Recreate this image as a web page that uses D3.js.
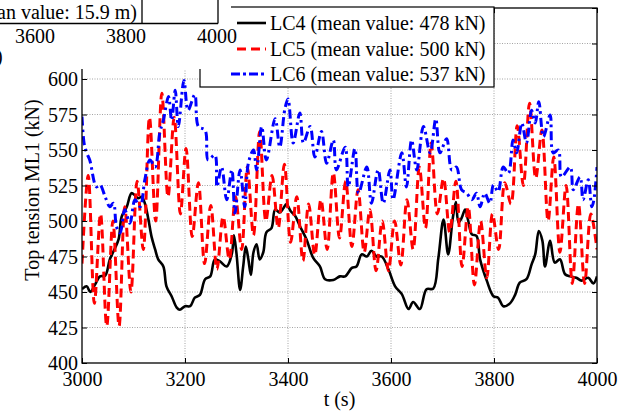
<!DOCTYPE html>
<html>
<head>
<meta charset="utf-8">
<script src="https://cdn.jsdelivr.net/npm/d3@7"></script>
<style>
  html, body { margin: 0; padding: 0; background: #fff; }
  svg { display: block; }
  text { font-family: "Liberation Serif", "Times New Roman", serif; fill: #000; }
</style>
</head>
<body>
<svg id="chart" width="632" height="412"></svg>
<script>
// Time histories of the top tension in mooring line ML1, t = 3000–4000 s
const lc4 = [[3000,452],[3009,454],[3016,450],[3025,455],[3035,461],[3045,461.5],[3054,473],[3061,478.5],[3071,487],[3077,503],[3087,510],[3096,519.6],[3103,518],[3109,516],[3116,517],[3122,512.5],[3129,501],[3135,489],[3142,480],[3148,473],[3158,468],[3164,454],[3174,447],[3184,439],[3190,437.5],[3200,440],[3210,440],[3219,446],[3229,448],[3239,459],[3249,461],[3258,473],[3268,471.5],[3281,468],[3291,477],[3295,490],[3300,477],[3307,451.5],[3313,468],[3318,482],[3323,473],[3328,462],[3333,478],[3339,483.6],[3345,473],[3352,478],[3358,492],[3368,495],[3375,508],[3384,506],[3391,509],[3397,512],[3405,507],[3414,503.5],[3423,496.5],[3436,487],[3449,474],[3462,468],[3472,459],[3488,458.5],[3501,461],[3511,461],[3524,467],[3533,468],[3543,476.5],[3553,475],[3562,479],[3572,475],[3582,475],[3595,466],[3608,454],[3621,448.5],[3634,438],[3643,443],[3656,438],[3669,452],[3682,452.4],[3692,474],[3702,501],[3711,476.5],[3720,502],[3726,513.4],[3731,499],[3737,502],[3744,508],[3750,500],[3757,490.6],[3766,489.5],[3773,473],[3786,458],[3799,447],[3808,446],[3818,440],[3831,442],[3841,448],[3850,456.6],[3863,459],[3873,469.5],[3880,476.5],[3887,493],[3894,486],[3899,468],[3909,486],[3918,470.7],[3928,473],[3938,462.5],[3948,461],[3960,460],[3970,458],[3983,460],[3993,456],[4000,461]];

const lc5 = [[3000,470],[3012,532],[3024,442],[3036,505],[3048,426],[3060,500],[3072,426],[3083,510],[3095,450],[3107,528],[3119,480],[3131,573],[3143,500],[3155,590],[3167,517],[3179,573],[3191,505],[3202,551],[3214,489],[3226,527],[3238,470],[3250,511],[3262,466],[3274,503],[3286,473],[3298,517],[3310,480],[3321,538],[3333,490],[3345,563],[3357,500],[3369,532],[3381,495],[3393,540],[3405,485],[3417,517],[3429,472],[3440,512],[3452,476],[3464,515],[3476,480],[3488,534],[3500,488],[3512,528],[3524,482],[3536,522],[3548,478],[3559,508],[3571,465],[3583,500],[3595,465],[3607,500],[3619,469],[3631,515],[3643,480],[3655,538],[3667,495],[3678,555],[3690,505],[3702,530],[3714,492],[3726,528],[3738,468],[3750,510],[3762,455],[3774,500],[3786,460],[3797,505],[3809,480],[3821,527],[3833,512],[3845,567],[3857,525],[3869,583],[3881,530],[3893,564],[3905,500],[3916,545],[3928,478],[3940,525],[3952,456],[3964,512],[3976,456],[3988,505],[4000,480]];

const lc6 = [[3000,573.5],[3004,555],[3009,548],[3015,543],[3028,524],[3035,525.5],[3045,517],[3054,510],[3061,512.5],[3067,496],[3074,491.5],[3083,508],[3093,498.5],[3103,515],[3113,510],[3122,529],[3132,543],[3142,538],[3151,562],[3158,571],[3168,587.6],[3174,571],[3181,592],[3187,566.5],[3198,599],[3206,578],[3219,589],[3226,566.5],[3239,564],[3245,543],[3258,546.5],[3262,524],[3271,538],[3281,515],[3291,536],[3297,505.5],[3307,536],[3316,510],[3323,540.7],[3333,550],[3339,536],[3349,566.5],[3358,543],[3375,572],[3384,552],[3394,579],[3400,586],[3410,555],[3423,576],[3430,555],[3443,566.5],[3452,545],[3465,563],[3475,540.7],[3488,557],[3494,536],[3511,552],[3517,524],[3530,551],[3537,519.6],[3553,538],[3562,512.5],[3575,536],[3585,512.5],[3598,536],[3604,515],[3621,548],[3630,524],[3640,557],[3650,536],[3663,566.5],[3676,548],[3687,572],[3695,548],[3708,558],[3718,536],[3727,538],[3737,522],[3747,519.6],[3757,515],[3766,519.6],[3773,510],[3782,519.6],[3792,512.5],[3799,525.4],[3808,520.7],[3818,538],[3828,533.6],[3837,557],[3844,548],[3854,569],[3863,555],[3873,578],[3880,569],[3887,584],[3896,559.4],[3909,574.7],[3915,548],[3925,550],[3931,531],[3948,538],[3954,522],[3967,531],[3973,515],[3983,529],[3990,510],[3994,515],[4000,538]];

const seriesNames = ["LC4 (mean value: 478 kN)", "LC5 (mean value: 500 kN)", "LC6 (mean value: 537 kN)"];
const xTicks = [3000, 3200, 3400, 3600, 3800, 4000];
const yTicks = [400, 425, 450, 475, 500, 525, 550, 575, 600, 625, 650];
const yLabelled = [400, 425, 450, 475, 500, 525, 550, 575, 600];

// Neighbouring panel (partly visible above): its legend text and x tick labels
const upperLegendText = "(mean value: 15.9 m)";
const upperTicks = [3600, 3800, 4000];

const svg = d3.select("#chart");
const L = 82, R = 597, T = 8, B = 363;

const x = d3.scaleLinear().domain([3000, 4000]).range([L, R]);
const y = d3.scaleLinear().domain([400, 650]).range([B, T]);

// grid
const grid = svg.append("g").attr("stroke", "#9a9a9a").attr("stroke-width", 0.9).attr("stroke-dasharray", "1,1.5");
grid.selectAll(".gx").data(xTicks.slice(1, -1)).join("line")
  .attr("x1", d => x(d)).attr("x2", d => x(d)).attr("y1", T).attr("y2", B);
grid.selectAll(".gy").data(yTicks.slice(1, -1)).join("line")
  .attr("x1", L).attr("x2", R).attr("y1", d => y(d)).attr("y2", d => y(d));

// series
svg.append("clipPath").attr("id", "plotclip").append("rect")
  .attr("x", L).attr("y", T).attr("width", R - L).attr("height", B - T);
const line = d3.line().x(d => x(d[0])).y(d => y(d[1])).curve(d3.curveCatmullRom.alpha(0.5));
const styles = [
  { data: lc4, color: "#000000", width: 2.6, dash: null },
  { data: lc5, color: "#ff0000", width: 3, dash: "9,5" },
  { data: lc6, color: "#0000ff", width: 3, dash: "9,4,2.5,4" }
];
const plot = svg.append("g").attr("clip-path", "url(#plotclip)");
styles.forEach(s => {
  plot.append("path").datum(s.data)
    .attr("d", line).attr("fill", "none")
    .attr("stroke", s.color).attr("stroke-width", s.width)
    .attr("stroke-dasharray", s.dash)
    .attr("stroke-linejoin", "round");
});

// axes (inward ticks, box style)
const fontSize = 20;
const gx = svg.append("g").attr("transform", `translate(0,${B})`)
  .call(d3.axisBottom(x).tickValues(xTicks).tickFormat(d3.format("d")).tickSize(-5).tickPadding(9));
const gy = svg.append("g").attr("transform", `translate(${L},0)`)
  .call(d3.axisLeft(y).tickValues(yTicks)
    .tickFormat(d => yLabelled.includes(d) ? d3.format("d")(d) : "")
    .tickSize(-5).tickPadding(4));
svg.append("g").attr("transform", `translate(${R},0)`)
  .call(d3.axisRight(y).tickValues(yTicks).tickFormat("").tickSize(-5));
svg.append("g").attr("transform", `translate(0,${T})`)
  .call(d3.axisTop(x).tickValues(xTicks).tickFormat("").tickSize(-5));
svg.selectAll(".domain").remove();
svg.selectAll(".tick line").attr("stroke", "#000").attr("stroke-width", 1);
svg.selectAll(".tick text").attr("font-size", fontSize)
  .style("font-family", "'Liberation Serif', 'Times New Roman', serif");
gy.selectAll(".tick text").attr("dy", "0.34em");

svg.append("rect").attr("x", L).attr("y", T).attr("width", R - L).attr("height", B - T)
  .attr("fill", "none").attr("stroke", "#000").attr("stroke-width", 1.3);

// axis titles
svg.append("text").attr("x", (L + R) / 2).attr("y", 406)
  .attr("text-anchor", "middle").attr("font-size", fontSize).text("t (s)");
svg.append("text").attr("transform", "translate(32,190) rotate(-90)")
  .attr("text-anchor", "middle").attr("dominant-baseline", "central")
  .attr("font-size", fontSize).text("Top tension ML1 (kN)");

// legend
const lg = svg.append("g");
lg.append("rect").attr("x", 200).attr("y", 7).attr("width", 294).attr("height", 80)
  .attr("fill", "#fff").attr("stroke", "#000").attr("stroke-width", 1.2);
const rowY = [23, 49, 74];
styles.forEach((s, i) => {
  lg.append("line").attr("x1", i === 2 ? 231 : 237).attr("x2", 266)
    .attr("y1", rowY[i]).attr("y2", rowY[i])
    .attr("stroke", s.color).attr("stroke-width", s.width)
    .attr("stroke-dasharray", i === 2 ? "9,3,3,3" : s.dash);
  lg.append("text").attr("x", 270).attr("y", rowY[i]).attr("dy", "0.34em")
    .attr("font-size", fontSize).text(seriesNames[i]);
});

// neighbouring panel overlapping the top-left corner
const up = svg.append("g");
up.append("rect").attr("x", 0).attr("y", 0).attr("width", 231).attr("height", 69).attr("fill", "#fff");
up.append("line").attr("x1", 0).attr("x2", 218).attr("y1", 23.5).attr("y2", 23.5)
  .attr("stroke", "#000").attr("stroke-width", 1.3);
up.append("line").attr("x1", 142).attr("x2", 142).attr("y1", 0).attr("y2", 23.5)
  .attr("stroke", "#000").attr("stroke-width", 1.3);
up.append("line").attr("x1", 218).attr("x2", 218).attr("y1", 0).attr("y2", 23.5)
  .attr("stroke", "#000").attr("stroke-width", 1.3);
up.append("text").attr("x", 137).attr("y", 19).attr("text-anchor", "end")
  .attr("font-size", fontSize).text(upperLegendText);
const xu = d3.scaleLinear().domain([3600, 4000]).range([35, 217]);
up.selectAll(".ut").data(upperTicks).join("text")
  .attr("x", d => xu(d)).attr("y", 43).attr("text-anchor", "middle")
  .attr("font-size", fontSize).text(d => d);
up.append("text").attr("x", -4).attr("y", 63).attr("font-size", fontSize).text(")");
</script>
</body>
</html>
